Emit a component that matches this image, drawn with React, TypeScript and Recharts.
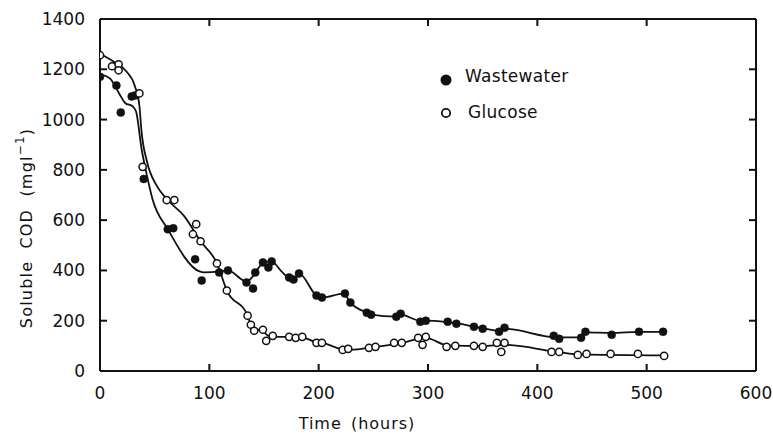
import React from 'react';
import { ComposedChart, Line, Scatter, XAxis, YAxis } from 'recharts';

const xTicks = [0, 100, 200, 300, 400, 500, 600];
const yTicks = [0, 200, 400, 600, 800, 1000, 1200, 1400];

const wastewaterHours = [0, 15, 19, 29, 32, 40, 62, 67, 87, 93, 109, 117, 134, 140, 142, 149, 154, 157, 173, 177, 182, 198, 203, 224, 229, 244, 248, 271, 275, 293, 298, 318, 326, 342, 350, 365, 370, 415, 420, 440, 444, 468, 493, 515];
const wastewaterCOD = [1170, 1136, 1028, 1092, 1096, 764, 564, 568, 444, 360, 392, 400, 352, 328, 392, 432, 412, 436, 372, 364, 388, 300, 292, 308, 272, 232, 224, 216, 228, 196, 200, 196, 188, 176, 168, 156, 172, 140, 128, 132, 156, 144, 156, 156];

const glucoseHours = [0, 11, 17, 17, 36, 39, 61, 68, 85, 88, 92, 107, 116, 135, 138, 141, 149, 152, 158, 173, 179, 185, 198, 203, 222, 227, 246, 252, 269, 276, 291, 295, 298, 317, 325, 342, 350, 363, 370, 367, 413, 420, 437, 445, 467, 492, 516];
const glucoseCOD = [1256, 1212, 1220, 1196, 1104, 812, 680, 680, 544, 584, 516, 428, 320, 220, 184, 160, 164, 120, 140, 136, 132, 136, 112, 112, 84, 88, 92, 96, 112, 112, 132, 104, 136, 96, 100, 100, 96, 112, 112, 76, 76, 76, 64, 68, 68, 68, 60];

const wastewaterCurveHours = [0, 9, 18, 23, 30, 33, 38, 43, 48, 62, 91, 95, 110, 117, 134, 139, 144, 150, 157, 166, 173, 179, 182, 198, 203, 223, 229, 244, 248, 271, 275, 293, 298, 318, 326, 342, 350, 365, 370, 418, 440, 445, 468, 493, 515];
const wastewaterCurveCOD = [1180, 1164, 1100, 1066, 1052, 1032, 884, 776, 684, 564, 396, 392, 396, 400, 356, 372, 404, 432, 436, 396, 372, 372, 388, 300, 292, 308, 272, 232, 224, 216, 224, 200, 200, 194, 190, 176, 170, 160, 168, 134, 134, 154, 152, 156, 156];

const glucoseCurveHours = [0, 12, 24, 32, 36, 38, 43, 52, 61, 77, 92, 107, 116, 135, 139, 149, 155, 185, 198, 203, 222, 229, 252, 276, 298, 318, 350, 370, 418, 440, 516];
const glucoseCurveCOD = [1262, 1232, 1192, 1132, 1056, 952, 832, 736, 684, 616, 516, 428, 320, 220, 172, 158, 138, 134, 114, 112, 86, 84, 96, 112, 132, 102, 100, 104, 76, 66, 62];

const zip = (xs: number[], ys: number[]) => xs.map((x, i) => ({ x, y: ys[i] }));

const wastewaterPoints = zip(wastewaterHours, wastewaterCOD);
const glucosePoints = zip(glucoseHours, glucoseCOD);
const wastewaterCurve = zip(wastewaterCurveHours, wastewaterCurveCOD);
const glucoseCurve = zip(glucoseCurveHours, glucoseCurveCOD);

const X_MIN = xTicks[0];
const X_MAX = xTicks[xTicks.length - 1];
const Y_MIN = yTicks[0];
const Y_MAX = yTicks[yTicks.length - 1];
const innerXTicks = xTicks.slice(1, -1);
const innerYTicks = yTicks.slice(1, -1);

// anchor points of the inward frame tick marks, one list per frame side
const bottomTickAnchors = innerXTicks.map((t) => ({ x: t, y: Y_MIN }));
const topTickAnchors = innerXTicks.map((t) => ({ x: t, y: Y_MAX }));
const leftTickAnchors = innerYTicks.map((t) => ({ x: X_MIN, y: t }));
const rightTickAnchors = innerYTicks.map((t) => ({ x: X_MAX, y: t }));

const INK = '#111';
const FONT = '"DejaVu Sans", sans-serif';

const W = 773;
const H = 436;
const M = { top: 19, right: 17, bottom: 0, left: 0 };
const Y_AXIS_W = 100;
const X_AXIS_H = 65;
const TICK = 7;

const FilledDot = (props: any) => {
  const { cx, cy } = props;
  if (cx == null || cy == null) return null;
  return <circle cx={cx} cy={cy} r={4} fill={INK} stroke={INK} strokeWidth={0.5} />;
};

const OpenDot = (props: any) => {
  const { cx, cy } = props;
  if (cx == null || cy == null) return null;
  return <circle cx={cx} cy={cy} r={3.6} fill="#fff" stroke={INK} strokeWidth={1.5} />;
};

const makeTickShape = (dx: number, dy: number) => (props: any) => {
  const { cx, cy } = props;
  if (cx == null || cy == null) return null;
  return <line x1={cx} y1={cy} x2={cx + dx * TICK} y2={cy + dy * TICK} stroke={INK} strokeWidth={2} />;
};
const TickUp = makeTickShape(0, -1);
const TickDown = makeTickShape(0, 1);
const TickRight = makeTickShape(1, 0);
const TickLeft = makeTickShape(-1, 0);

const YLabel = (props: any) => {
  const vb = props.viewBox || { x: 0, y: 19, width: 100, height: 352 };
  const cx = vb.x + 26;
  const cy = vb.y + vb.height / 2 + 33;
  return (
    <text
      transform={`translate(${cx},${cy}) rotate(-90)`}
      textAnchor="middle"
      dominantBaseline="central"
      fontSize={16}
      fontFamily={FONT}
      letterSpacing={1.2}
      wordSpacing={6}
      fill={INK}
    >
      Soluble COD (mgl<tspan dy={-6} fontSize={12}>−1</tspan>
      <tspan dy={6}>)</tspan>
    </text>
  );
};

const XLabel = (props: any) => {
  const vb = props.viewBox || { x: 100, y: 371, width: 656, height: 65 };
  const cx = vb.x + vb.width / 2 - 71;
  const cy = vb.y + 52;
  return (
    <text
      x={cx}
      y={cy}
      textAnchor="middle"
      dominantBaseline="central"
      fontSize={16}
      fontFamily={FONT}
      letterSpacing={1}
      wordSpacing={3}
      fill={INK}
    >
      Time (hours)
    </text>
  );
};

const axisStroke = { stroke: INK, strokeWidth: 2 };
const tickFont = { fontSize: 17, fill: INK, fontFamily: FONT };

export default function App() {
  return (
    <div style={{ position: 'absolute', left: 0, top: 0, width: W, height: H, background: '#fff' }}>
      <ComposedChart width={W} height={H} margin={M}>
        <XAxis
          xAxisId="b"
          dataKey="x"
          type="number"
          domain={[X_MIN, X_MAX]}
          ticks={xTicks}
          interval={0}
          allowDataOverflow
          height={X_AXIS_H}
          tickLine={false}
          tickSize={0}
          tickMargin={16}
          axisLine={axisStroke}
          tick={tickFont}
          label={<XLabel />}
        />
        <XAxis
          xAxisId="t"
          dataKey="x"
          type="number"
          orientation="top"
          domain={[X_MIN, X_MAX]}
          ticks={xTicks}
          mirror
          tick={false}
          tickLine={false}
          axisLine={axisStroke}
        />
        <YAxis
          yAxisId="l"
          type="number"
          domain={[Y_MIN, Y_MAX]}
          ticks={yTicks}
          interval={0}
          allowDataOverflow
          width={Y_AXIS_W}
          tickLine={false}
          tickSize={0}
          tickMargin={15}
          axisLine={axisStroke}
          tick={tickFont}
          label={<YLabel />}
        />
        <YAxis
          yAxisId="r"
          type="number"
          orientation="right"
          domain={[Y_MIN, Y_MAX]}
          ticks={yTicks}
          mirror
          tick={false}
          tickLine={false}
          axisLine={axisStroke}
        />
        <Scatter xAxisId="b" yAxisId="l" data={bottomTickAnchors} dataKey="y" shape={TickUp} isAnimationActive={false} legendType="none" />
        <Scatter xAxisId="b" yAxisId="l" data={topTickAnchors} dataKey="y" shape={TickDown} isAnimationActive={false} legendType="none" />
        <Scatter xAxisId="b" yAxisId="l" data={leftTickAnchors} dataKey="y" shape={TickRight} isAnimationActive={false} legendType="none" />
        <Scatter xAxisId="b" yAxisId="l" data={rightTickAnchors} dataKey="y" shape={TickLeft} isAnimationActive={false} legendType="none" />
        <Line
          xAxisId="b"
          yAxisId="l"
          data={wastewaterCurve}
          dataKey="y"
          type="monotone"
          dot={false}
          stroke={INK}
          strokeWidth={1.8}
          isAnimationActive={false}
          legendType="none"
        />
        <Line
          xAxisId="b"
          yAxisId="l"
          data={glucoseCurve}
          dataKey="y"
          type="monotone"
          dot={false}
          stroke={INK}
          strokeWidth={1.8}
          isAnimationActive={false}
          legendType="none"
        />
        <Scatter
          name="Wastewater"
          xAxisId="b"
          yAxisId="l"
          data={wastewaterPoints}
          dataKey="y"
          shape={FilledDot}
          isAnimationActive={false}
        />
        <Scatter
          name="Glucose"
          xAxisId="b"
          yAxisId="l"
          data={glucosePoints}
          dataKey="y"
          shape={OpenDot}
          isAnimationActive={false}
        />
      </ComposedChart>
      <svg style={{ position: 'absolute', left: 440, top: 74 }} width={12} height={12}>
        <circle cx={6} cy={6} r={5.5} fill={INK} />
      </svg>
      <span style={{ position: 'absolute', left: 465, top: 66, lineHeight: '20px', fontSize: 17, fontFamily: FONT, color: INK, letterSpacing: 0.3 }}>
        Wastewater
      </span>
      <svg style={{ position: 'absolute', left: 440, top: 107 }} width={12} height={12}>
        <circle cx={6} cy={6} r={4.2} fill="#fff" stroke={INK} strokeWidth={1.8} />
      </svg>
      <span style={{ position: 'absolute', left: 468, top: 102, lineHeight: '20px', fontSize: 17, fontFamily: FONT, color: INK, letterSpacing: 0.3 }}>
        Glucose
      </span>
    </div>
  );
}
